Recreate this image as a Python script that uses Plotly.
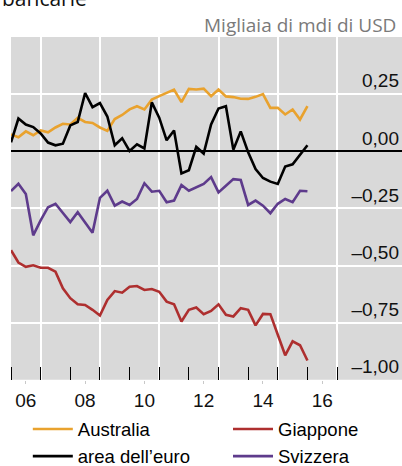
import plotly.graph_objects as go

quarters = [2006.00, 2006.25, 2006.50, 2006.75, 2007.00, 2007.25, 2007.50, 2007.75,
            2008.00, 2008.25, 2008.50, 2008.75, 2009.00, 2009.25, 2009.50, 2009.75,
            2010.00, 2010.25, 2010.50, 2010.75, 2011.00, 2011.25, 2011.50, 2011.75,
            2012.00, 2012.25, 2012.50, 2012.75, 2013.00, 2013.25, 2013.50, 2013.75,
            2014.00, 2014.25, 2014.50, 2014.75, 2015.00, 2015.25, 2015.50, 2015.75,
            2016.00]

australia = [0.074, 0.061, 0.087, 0.070, 0.091, 0.083, 0.104, 0.120, 0.117, 0.146,
             0.128, 0.124, 0.104, 0.089, 0.141, 0.159, 0.183, 0.197, 0.183, 0.226,
             0.241, 0.255, 0.270, 0.215, 0.273, 0.270, 0.274, 0.241, 0.270, 0.240,
             0.237, 0.230, 0.229, 0.238, 0.250, 0.190, 0.190, 0.161, 0.183, 0.139,
             0.197]
euro_area = [0.039, 0.143, 0.117, 0.106, 0.078, 0.038, 0.026, 0.033, 0.113, 0.128,
             0.255, 0.193, 0.211, 0.152, 0.026, 0.057, 0.001, 0.030, 0.012, 0.214,
             0.147, 0.048, 0.091, -0.097, -0.083, 0.019, -0.010, 0.117, 0.187, 0.197,
             0.007, 0.087, -0.004, -0.078, -0.117, -0.133, -0.143, -0.067, -0.057, -0.013,
             0.026]
japan = [-0.433, -0.487, -0.506, -0.499, -0.510, -0.510, -0.527, -0.600, -0.643, -0.670,
         -0.673, -0.694, -0.719, -0.651, -0.612, -0.619, -0.593, -0.590, -0.607, -0.603,
         -0.615, -0.658, -0.670, -0.745, -0.694, -0.684, -0.713, -0.699, -0.670, -0.716,
         -0.723, -0.687, -0.694, -0.762, -0.712, -0.713, -0.803, -0.893, -0.832, -0.849,
         -0.916]
switzerland = [-0.174, -0.142, -0.187, -0.368, -0.303, -0.245, -0.230, -0.271, -0.310, -0.267,
               -0.310, -0.357, -0.204, -0.173, -0.238, -0.220, -0.235, -0.209, -0.140, -0.177,
               -0.173, -0.223, -0.216, -0.148, -0.173, -0.158, -0.143, -0.113, -0.180, -0.151,
               -0.122, -0.126, -0.235, -0.216, -0.238, -0.271, -0.230, -0.209, -0.223, -0.173,
               -0.175]

year_ticks = [2006, 2007, 2008, 2009, 2010, 2011, 2012, 2013, 2014, 2015, 2016, 2017]
grid_years = [2007, 2009, 2011, 2013, 2015, 2017]
label_pos = [2006.5, 2008.5, 2010.5, 2012.5, 2014.5, 2016.5]
label_text = ["06", "08", "10", "12", "14", "16"]
y_ticks = [-1.0, -0.75, -0.5, -0.25, 0.0, 0.25]
y_text = ["–1,00", "–0,75", "–0,50", "–0,25", "0,00", "0,25"]

FONT = "Liberation Sans, Arial, sans-serif"
x_range = [2006, 2019.19]

fig = go.Figure()

series = [
    ("Australia", australia, "#E9A22E", "legend"),
    ("area dell\u2019euro", euro_area, "#000000", "legend"),
    ("Giappone", japan, "#AE2F2F", "legend2"),
    ("Svizzera", switzerland, "#5E3B8C", "legend2"),
]
for name, vals, col, lg in series:
    fig.add_trace(go.Scatter(x=quarters, y=vals, mode="lines", name=name,
                             line=dict(color=col, width=2.6), legend=lg,
                             hoverinfo="skip"))

# invisible trace to carry the grid overlay axis
fig.add_trace(go.Scatter(x=grid_years, y=[None] * len(grid_years), xaxis="x2",
                         showlegend=False, hoverinfo="skip", mode="lines"))

fig.update_layout(
    width=402, height=466,
    margin=dict(l=11, r=0, t=37, b=84),
    paper_bgcolor="white",
    plot_bgcolor="#D9D9D9",
    font=dict(family=FONT, size=19, color="#000000"),
    xaxis=dict(
        range=x_range, tickmode="array", tickvals=label_pos, ticktext=label_text,
        ticks="outside", ticklen=3, tickcolor="#C8C8C8", tickwidth=1,
        ticklabelstandoff=0,
        showgrid=False, zeroline=False, showline=False,
        tickfont=dict(size=19, family=FONT, color="#111111"),
        minor=dict(tickmode="array", tickvals=year_ticks, ticks="inside",
                   ticklen=13, tickcolor="#000000", tickwidth=1.3, showgrid=False),
    ),
    xaxis2=dict(
        range=x_range, overlaying="x", anchor="y", tickmode="array",
        tickvals=grid_years, showticklabels=False, ticks="",
        showgrid=True, gridcolor="white", gridwidth=1.6, zeroline=False,
    ),
    yaxis=dict(
        range=[-1.0, 0.5], side="right", tickmode="array", tickvals=y_ticks,
        ticktext=y_text, ticklabelposition="inside top", ticks="",
        showgrid=True, gridcolor="white", gridwidth=1.6,
        zeroline=True, zerolinecolor="#000000", zerolinewidth=1.5,
        tickfont=dict(size=19, family=FONT, color="#111111"),
    ),
    legend=dict(x=0.043, y=0.119, xref="paper", yref="container",
                xanchor="left", yanchor="top",
                orientation="v", font=dict(size=18.5, family=FONT), itemwidth=40,
                bgcolor="rgba(0,0,0,0)", tracegroupgap=0),
    legend2=dict(x=0.555, y=0.119, xref="paper", yref="container",
                 xanchor="left", yanchor="top",
                 orientation="v", font=dict(size=18.5, family=FONT), itemwidth=40,
                 bgcolor="rgba(0,0,0,0)", tracegroupgap=0),
    showlegend=True,
    annotations=[
        dict(text="Migliaia di mdi di USD", xref="paper", yref="paper",
             x=1, y=1.035, xanchor="right", yanchor="middle", xshift=-4,
             showarrow=False, font=dict(family="Open Sans", size=19, color="#7A7A7A")),
        dict(text="bancarie", xref="paper", yref="paper",
             x=-0.028, y=1.068, xanchor="left", yanchor="bottom",
             showarrow=False, font=dict(family="Open Sans", size=21, color="#111111")),
    ],
)

fig.write_html("out.html", config={"displayModeBar": False},
               post_script="document.body.style.margin='0px';")
